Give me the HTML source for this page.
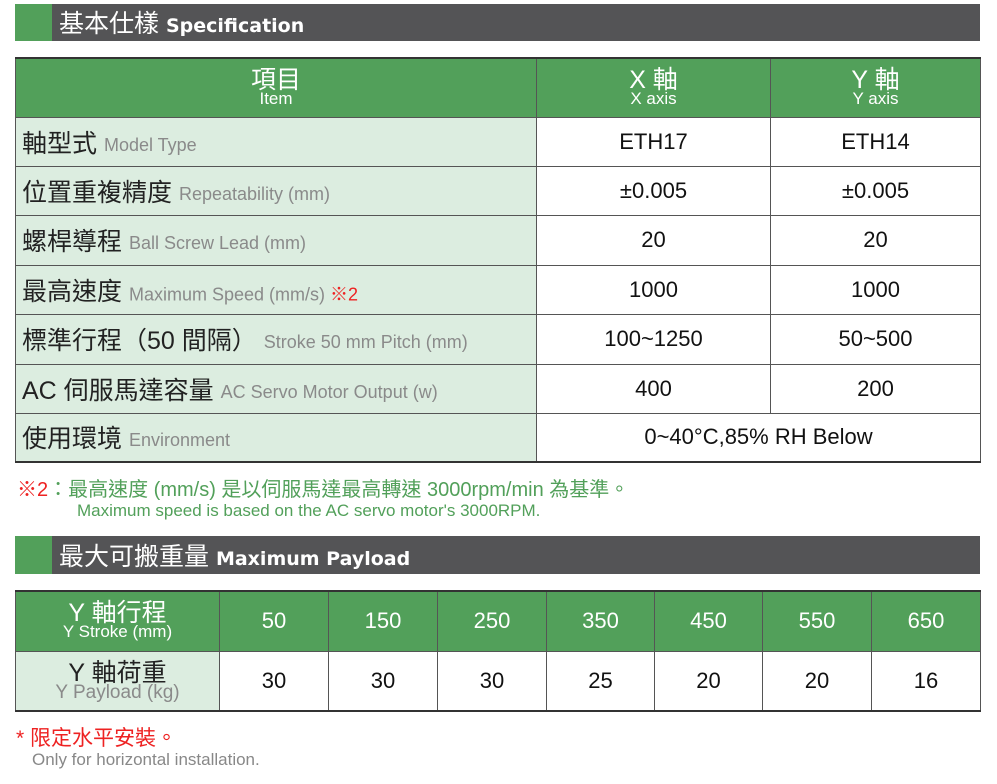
<!DOCTYPE html>
<html><head><meta charset="utf-8"><style>
body{margin:0;width:997px;height:784px;background:#fff;position:relative;font-family:"Liberation Sans","Noto Sans CJK TC",sans-serif;overflow:hidden}
.a{position:absolute}
.bar{position:absolute;left:15px;width:965px;background:#545456}
.bar .g{position:absolute;left:0;top:0;bottom:0;width:37px;background:#52a05a}
.bar .t{position:absolute;left:44px;color:#fff;font-size:25px;white-space:nowrap}
.bar .t b{font-size:19px;font-family:"DejaVu Sans",sans-serif;font-weight:bold}
table{position:absolute;left:15px;border-collapse:collapse;table-layout:fixed}
td{padding:0;border:1px solid #555;text-align:center;font-size:22px;color:#111}
.h{background:#52a05a;color:#fff}
.l{background:#dcede0;text-align:left;padding-left:6px;font-size:25px;color:#222;white-space:nowrap}
.l span{font-size:18px;color:#8a8a8a;vertical-align:middle}
.sub{font-size:17px;display:block;line-height:16px}
</style></head><body>
<div class="bar" style="top:4px;height:37px"><div class="g"></div><div class="t" style="top:0px">基本仕樣 <b>Specification</b></div></div>
<table style="top:57px;width:965px;border-top:2px solid #333;border-bottom:2px solid #333">
<col style="width:521px"><col style="width:234px"><col style="width:210px">
<tr style="height:59px" class="h"><td class="h" style="font-size:25px;line-height:22px">項目<span class="sub">Item</span></td><td class="h" style="font-size:25px;line-height:22px">X 軸<span class="sub">X axis</span></td><td class="h" style="font-size:25px;line-height:22px">Y 軸<span class="sub">Y axis</span></td></tr>
<tr style="height:49px"><td class="l">軸型式 <span>Model Type</span></td><td>ETH17</td><td>ETH14</td></tr>
<tr style="height:49px"><td class="l">位置重複精度 <span>Repeatability (mm)</span></td><td>±0.005</td><td>±0.005</td></tr>
<tr style="height:50px"><td class="l">螺桿導程 <span>Ball Screw Lead (mm)</span></td><td>20</td><td>20</td></tr>
<tr style="height:49px"><td class="l">最高速度 <span>Maximum Speed (mm/s) <i style="color:#e22;font-style:normal">※2</i></span></td><td>1000</td><td>1000</td></tr>
<tr style="height:50px"><td class="l">標準行程（50 間隔） <span>Stroke 50 mm Pitch (mm)</span></td><td>100~1250</td><td>50~500</td></tr>
<tr style="height:49px"><td class="l">AC 伺服馬達容量 <span>AC Servo Motor Output (w)</span></td><td>400</td><td>200</td></tr>
<tr style="height:49px"><td class="l">使用環境 <span>Environment</span></td><td colspan="2">0~40°C,85% RH Below</td></tr>
</table>
<div class="a" style="left:17px;top:473px;font-size:20px;color:#52a05a;white-space:nowrap"><span style="color:#e22">※2</span>：最高速度 (mm/s) 是以伺服馬達最高轉速 3000rpm/min 為基準。</div>
<div class="a" style="left:77px;top:501px;font-size:17px;color:#52a05a;white-space:nowrap">Maximum speed is based on the AC servo motor's 3000RPM.</div>
<div class="bar" style="top:536px;height:38px"><div class="g"></div><div class="t" style="top:1px">最大可搬重量 <b>Maximum Payload</b></div></div>
<table style="top:590px;width:965px;border-top:2px solid #333;border-bottom:2px solid #333">
<col style="width:204px"><col style="width:109px"><col style="width:109px"><col style="width:109px"><col style="width:108px"><col style="width:108px"><col style="width:109px"><col style="width:109px">
<tr style="height:60px"><td class="h" style="font-size:25px;line-height:22px">Y 軸行程<span class="sub">Y Stroke (mm)</span></td><td class="h">50</td><td class="h">150</td><td class="h">250</td><td class="h">350</td><td class="h">450</td><td class="h">550</td><td class="h">650</td></tr>
<tr style="height:60px"><td style="background:#dcede0;font-size:25px;line-height:24px;color:#222">Y 軸荷重<span class="sub" style="font-size:19px;color:#8a8a8a">Y Payload (kg)</span></td><td>30</td><td>30</td><td>30</td><td>25</td><td>20</td><td>20</td><td>16</td></tr>
</table>
<div class="a" style="left:16px;top:722px;font-size:21px;color:#e22">* 限定水平安裝。</div>
<div class="a" style="left:32px;top:750px;font-size:17px;color:#888">Only for horizontal installation.</div>
</body></html>
